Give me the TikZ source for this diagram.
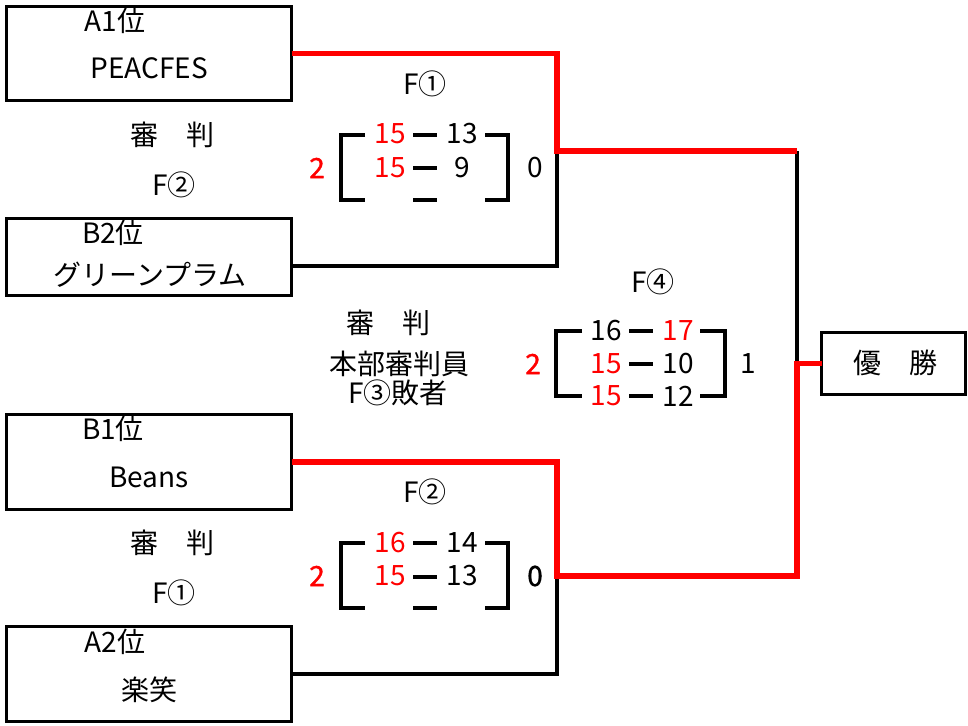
\documentclass[tikz,border=0pt]{standalone}
\usepackage{fontspec}
\setmainfont{Noto Sans CJK JP}
\newfontfamily\semibold[FakeBold=1.2]{Noto Sans CJK JP}
\begin{document}
\begin{tikzpicture}[x=1pt,y=-1pt,
  team/.style={draw=black,line width=3.3pt,minimum width=285pt,inner sep=0pt,outer sep=0pt},
  txt/.style={inner sep=0pt,font=\fontsize{28}{30}\selectfont},
  rd/.style={txt,text=red},
  rdb/.style={txt,text=red,font=\fontsize{28}{30}\selectfont\semibold},
  blk/.style={line width=3.3pt,line join=miter},
  win/.style={line width=5.5pt,draw=red,line join=miter},
  brk/.style={line width=3.3pt}]
\useasboundingbox (0,0) rectangle (968,725);
% team boxes
\node[team,minimum height=94pt] (A1) at (149,53.5) {};
\node[team,minimum height=77pt] (B2) at (149,257) {};
\node[team,minimum height=95pt] (B1) at (149,462) {};
\node[team,minimum height=95pt] (A2) at (149,674) {};
\node[team,minimum width=144pt,minimum height=62pt] (W) at (893.5,363.5) {};
% box texts
\node[txt] (A1r) at (115,21) {A1位};
\node[txt] (A1n) at (149,68) {PEACFES};
\node[txt] (B2r) at (113,233) {B2位};
\node[txt] (B2n) at (150,275) {グリーンプラム};
\node[txt] (B1r) at (113,429) {B1位};
\node[txt] (B1n) at (149,477) {Beans};
\node[txt] (A2r) at (115,642) {A2位};
\node[txt] (A2n) at (149,690) {楽笑};
\node[txt] (Wn) at (895,363) {優　勝};
% referee texts
\node[txt] (r1a) at (172,135) {審　判};
\node[txt] (r1b) at (174,185) {F②};
\node[txt] (r2a) at (172,543) {審　判};
\node[txt] (r2b) at (174,593) {F①};
\node[txt] (r3a) at (388,323) {審　判};
\node[txt] (r3b) at (399,364) {本部審判員};
\node[txt] (r3c) at (398,393) {F③敗者};
% junction coordinates
\coordinate (j1) at (557,151);
\coordinate (j2) at (557,576);
\coordinate (c1) at (797,151);
\coordinate (c2) at (797,576);
\coordinate (f) at (797,363.5);
% black connectors
\draw[blk] ([yshift=-9pt]B2.east) -| (j1);
\draw[blk] (A2.east) -| (j2);
\draw[blk] (c1) -- (f);
% red winner connectors
\draw[win] (A1.east) -| (j1) -- (c1);
\draw[win] (B1.east) -| (j2) -- (c2) -- (f) -- (W.west);
% Match F1
\node[txt] (m1) at (425,84) {F①};
\draw[brk] (365,135) -- (341,135) -- (341,200) -- (365,200);
\draw[brk] (485,135) -- (508,135) -- (508,200) -- (485,200);
\draw[brk] (413,135) -- (437,135);
\draw[brk] (413,168) -- (437,168);
\draw[brk] (413,200) -- (437,200);
\node[rd] (m1a1) at (390,134) {15};
\node[txt] (m1b1) at (462,134) {13};
\node[rd] (m1a2) at (390,168) {15};
\node[txt] (m1b2) at (462,168) {9};
\node[rdb] (m1a) at (317,168) {2};
\node[txt] (m1b) at (535,168) {0};
% Match F2
\node[txt] (m2) at (425,492) {F②};
\draw[brk] (365,543) -- (341,543) -- (341,608) -- (365,608);
\draw[brk] (485,543) -- (508,543) -- (508,608) -- (485,608);
\draw[brk] (413,543) -- (437,543);
\draw[brk] (413,577) -- (437,577);
\draw[brk] (413,608) -- (437,608);
\node[rd] (m2a1) at (390,543) {16};
\node[txt] (m2b1) at (462,543) {14};
\node[rd] (m2a2) at (390,576) {15};
\node[txt] (m2b2) at (462,576) {13};
\node[rdb] (m2a) at (317,576) {2};
\node[txt,font=\fontsize{28}{30}\selectfont\semibold] (m2b) at (535,576) {0};
% Match F4
\node[txt] (m4) at (653,282) {F④};
\draw[brk] (582,331) -- (556,331) -- (556,396) -- (582,396);
\draw[brk] (700,331) -- (725,331) -- (725,396) -- (700,396);
\draw[brk] (629,331) -- (653,331);
\draw[brk] (629,364) -- (653,364);
\draw[brk] (629,396) -- (653,396);
\node[txt] (m4a1) at (606,331) {16};
\node[rd] (m4b1) at (678,331) {17};
\node[rd] (m4a2) at (606,364) {15};
\node[txt] (m4b2) at (678,364) {10};
\node[rd] (m4a3) at (606,396) {15};
\node[txt] (m4b3) at (678,396) {12};
\node[rdb] (m4a) at (533,364) {2};
\node[txt] (m4b) at (748,364) {1};
\end{tikzpicture}
\end{document}
